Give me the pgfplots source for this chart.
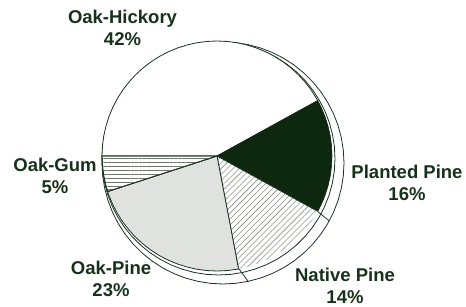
\documentclass[border=0pt]{standalone}
\usepackage{fontspec}
\setmainfont{Liberation Sans}
\usepackage{pgfplots}
\pgfplotsset{compat=1.18}
\usetikzlibrary{patterns.meta}
\definecolor{txt}{HTML}{17311B}
\definecolor{edge}{HTML}{1A3420}
\definecolor{dgreen}{HTML}{0E2810}
\definecolor{lgray}{HTML}{E0E2DF}
\definecolor{hatch}{HTML}{6A7468}
\begin{document}
\begin{tikzpicture}
\begin{axis}[width=466pt,height=306pt,scale only axis,
  xmin=-217,xmax=249,ymin=-150,ymax=156,hide axis,clip=false]
\path (rel axis cs:0,0) rectangle (rel axis cs:1,1);
% outer outline circle (shifted)
\addplot[data cs=polar,draw=edge,line width=0.8pt,fill=white,xshift=6pt,yshift=-7pt] coordinates {
(0,121) (6,121) (12,121) (18,121) (24,121) (30,121) (36,121) (42,121) (48,121) (54,121)
(60,121) (66,121) (72,121) (78,121) (84,121) (90,121) (96,121) (102,121) (108,121) (114,121)
(120,121) (126,121) (132,121) (138,121) (144,121) (150,121) (156,121) (162,121) (168,121) (174,121)
(180,121) (186,121) (192,121) (198,121) (204,121) (210,121) (216,121) (222,121) (228,121) (234,121)
(240,121) (246,121) (252,121) (258,121) (264,121) (270,121) (276,121) (282,121) (288,121) (294,121)
(300,121) (306,121) (312,121) (318,121) (324,121) (330,121) (336,121) (342,121) (348,121) (354,121) (360,121)};
% intermediate outline circle (shifted)
\addplot[data cs=polar,draw=edge,line width=0.8pt,fill=white,xshift=1.5pt,yshift=-2.5pt] coordinates {
(0,116.5) (6,116.5) (12,116.5) (18,116.5) (24,116.5) (30,116.5) (36,116.5) (42,116.5) (48,116.5) (54,116.5)
(60,116.5) (66,116.5) (72,116.5) (78,116.5) (84,116.5) (90,116.5) (96,116.5) (102,116.5) (108,116.5) (114,116.5)
(120,116.5) (126,116.5) (132,116.5) (138,116.5) (144,116.5) (150,116.5) (156,116.5) (162,116.5) (168,116.5) (174,116.5)
(180,116.5) (186,116.5) (192,116.5) (198,116.5) (204,116.5) (210,116.5) (216,116.5) (222,116.5) (228,116.5) (234,116.5)
(240,116.5) (246,116.5) (252,116.5) (258,116.5) (264,116.5) (270,116.5) (276,116.5) (282,116.5) (288,116.5) (294,116.5)
(300,116.5) (306,116.5) (312,116.5) (318,116.5) (324,116.5) (330,116.5) (336,116.5) (342,116.5) (348,116.5) (354,116.5) (360,116.5)};
% radial extension lines
\addplot[data cs=polar,draw=edge,line width=0.8pt] coordinates {(-28.8,114) (-30,129.5)};
\addplot[data cs=polar,draw=edge,line width=0.8pt] coordinates {(-79.2,114) (-76,129.5)};
% Oak-Hickory 42%
\addplot[data cs=polar,draw=edge,line width=0.8pt,fill=white] coordinates {
(0,0) (28.8,115) (35,115) (40,115) (45,115) (50,115) (55,115) (60,115) (65,115) (70,115) (75,115)
(80,115) (85,115) (90,115) (95,115) (100,115) (105,115) (110,115) (115,115) (120,115) (125,115)
(130,115) (135,115) (140,115) (145,115) (150,115) (155,115) (160,115) (165,115) (170,115) (175,115) (180,115) (0,0)};
% Planted Pine 16%
\addplot[data cs=polar,draw=dgreen,line width=0.6pt,fill=dgreen] coordinates {
(0,0) (-28.8,115) (-25,115) (-20,115) (-15,115) (-10,115) (-5,115) (0,115) (5,115) (10,115)
(15,115) (20,115) (25,115) (28.8,115) (0,0)};
% Native Pine 14%
\addplot[data cs=polar,draw=none,fill=white,
  postaction={pattern={Lines[angle=45,distance=4.2pt,line width=0.4pt]},pattern color=hatch}] coordinates {
(0,0) (-79.2,115) (-75,115) (-70,115) (-65,115) (-60,115) (-55,115) (-50,115) (-45,115) (-40,115)
(-35,115) (-30,115) (-28.8,115) (0,0)};
\addplot[data cs=polar,draw=edge,line width=0.8pt] coordinates {(-28.8,115) (0,0) (-79.2,115)};
% Oak-Pine 23%
\addplot[data cs=polar,draw=edge,line width=0.8pt,fill=lgray] coordinates {
(0,0) (198,115) (200,115) (205,115) (210,115) (215,115) (220,115) (225,115) (230,115) (235,115)
(240,115) (245,115) (250,115) (255,115) (260,115) (265,115) (270,115) (275,115) (280,115) (280.8,115) (0,0)};
% Oak-Gum 5%
\addplot[data cs=polar,draw=edge,line width=0.8pt,fill=white,
  postaction={pattern={Lines[angle=0,distance=3.9pt,line width=0.4pt]},pattern color=hatch}] coordinates {
(0,0) (180,115) (185,115) (190,115) (195,115) (198,115) (0,0)};
% labels
\node[font=\bfseries\fontsize{18.5}{22}\selectfont,text=txt,align=center] at (axis cs:-94.5,128) {Oak-Hickory\\42\%};
\node[font=\bfseries\fontsize{18.5}{22}\selectfont,text=txt,align=center] at (axis cs:-162,-20) {Oak-Gum\\5\%};
\node[font=\bfseries\fontsize{18.5}{22}\selectfont,text=txt,align=center] at (axis cs:190,-27) {Planted Pine\\16\%};
\node[font=\bfseries\fontsize{18.5}{22}\selectfont,text=txt,align=center] at (axis cs:-106,-122.5) {Oak-Pine\\23\%};
\node[font=\bfseries\fontsize{18.5}{22}\selectfont,text=txt,align=center] at (axis cs:128,-129.5) {Native Pine\\14\%};
\end{axis}
\end{tikzpicture}
\end{document}
